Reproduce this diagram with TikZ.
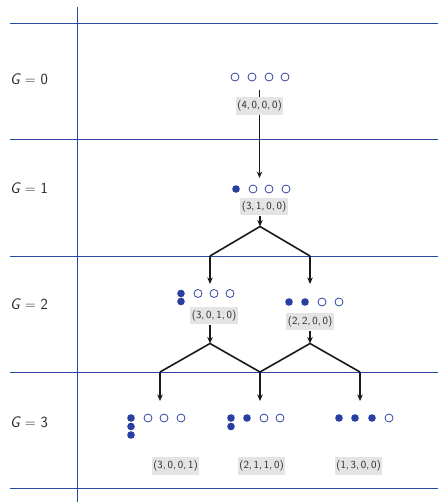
\documentclass[tikz,border=0pt]{standalone}
\usetikzlibrary{arrows.meta}
\definecolor{lineblue}{RGB}{42,72,162}
\definecolor{dotblue}{RGB}{40,62,160}
\definecolor{boxgray}{RGB}{228,228,229}
\definecolor{txtgray}{RGB}{40,40,40}
\begin{document}
\begin{tikzpicture}[x=1pt,y=-1pt,
  grid/.style={draw=lineblue,line width=0.9pt},
  emp/.style={circle,draw=dotblue,line width=0.75pt,minimum size=8pt,inner sep=0pt},
  ful/.style={circle,fill=dotblue,minimum size=7.6pt,inner sep=0pt},
  lbl/.style={fill=boxgray,text=txtgray,font=\sffamily\fontsize{10.8}{12}\selectfont,
    inner xsep=1.5pt,inner ysep=3.5pt,text height=8pt,text depth=2.8pt},
  rowlbl/.style={anchor=west,text=txtgray,font=\sffamily\fontsize{15.5}{17}\selectfont,inner sep=0pt},
  arr/.style={draw=black!90,line width=1.6pt,-{Stealth[length=6.5pt,width=5.5pt]}},
  seg/.style={draw=black!90,line width=1.6pt}]
\useasboundingbox (0,0) rectangle (438,502);
\fill[white] (0,0) rectangle (438,502);

% grid
\coordinate (vt) at (77,7);
\coordinate (vb) at (77,502);
\draw[grid] (vt) -- (vb);
\foreach \y [count=\i] in {23,139,256,372,488}{
  \coordinate (hl\i) at (10,\y);
  \coordinate (hr\i) at (438,\y);
  \draw[grid] (hl\i) -- (hr\i);
}

% row labels
\node[rowlbl] (g0) at (10,79) {\itshape G\upshape\ $=$ 0};
\node[rowlbl] (g1) at (10,188) {\itshape G\upshape\ $=$ 1};
\node[rowlbl] (g2) at (10,304) {\itshape G\upshape\ $=$ 2};
\node[rowlbl] (g3) at (10,422) {\itshape G\upshape\ $=$ 3};

% ---------- G = 0 ----------
\node[emp] (a1) at (235,77) {};
\node[emp] (a2) at (252,77) {};
\node[emp] (a3) at (269,77) {};
\node[emp] (a4) at (285,77) {};
\coordinate (s0out) at (259.5,90);
\coordinate (s1in) at (259.5,178);
\draw[arr] (s0out) -- (s1in);
\node[lbl] (s0) at (259.5,106) {(4,\,0,\,0,\,0)};

% ---------- G = 1 ----------
\node[ful] (b1) at (236,189) {};
\node[emp] (b2) at (253,189) {};
\node[emp] (b3) at (269,189) {};
\node[emp] (b4) at (286,189) {};
\node[lbl] (s1) at (264,206.5) {(3,\,1,\,0,\,0)};
\coordinate (j1) at (260,226.5);
\draw[arr] (s1.south -| j1) -- (j1);
\coordinate (k1) at (210,256);
\coordinate (k2) at (310,256);
\draw[seg] (k1) -- (j1) -- (k2);
\coordinate (s2ain) at (210,284);
\coordinate (s2bin) at (310,284);
\draw[arr] (k1) -- (s2ain);
\draw[arr] (k2) -- (s2bin);

% ---------- G = 2 ----------
\node[ful] (c1) at (181,293.5) {};
\node[ful] (c2) at (181,301.5) {};
\node[emp] (c3) at (198,293.5) {};
\node[emp] (c4) at (214,293.5) {};
\node[emp] (c5) at (230,293.5) {};
\node[lbl] (s2a) at (214,315.5) {(3,\,0,\,1,\,0)};

\node[ful] (d1) at (289,302) {};
\node[ful] (d2) at (305,302) {};
\node[emp] (d3) at (322,302) {};
\node[emp] (d4) at (339,302) {};
\node[lbl] (s2b) at (310,321.5) {(2,\,2,\,0,\,0)};

\coordinate (j2) at (210,343.5);
\coordinate (j3) at (310,343.5);
\draw[arr] (s2a.south -| j2) -- (j2);
\draw[arr] (s2b.south -| j3) -- (j3);
\coordinate (m1) at (160,372);
\coordinate (m2) at (260,372);
\coordinate (m3) at (360,372);
\draw[seg] (m1) -- (j2) -- (m2) -- (j3) -- (m3);
\coordinate (n1) at (160,401);
\coordinate (n2) at (260,401);
\coordinate (n3) at (360,401);
\draw[arr] (m1) -- (n1);
\draw[arr] (m2) -- (n2);
\draw[arr] (m3) -- (n3);

% ---------- G = 3 ----------
\node[ful] (e1) at (131,418) {};
\node[ful] (e2) at (131,426.5) {};
\node[ful] (e3) at (131,435) {};
\node[emp] (e4) at (148,418) {};
\node[emp] (e5) at (164,418) {};
\node[emp] (e6) at (181,418) {};
\node[lbl] (s3a) at (175.5,466) {(3,\,0,\,0,\,1)};

\node[ful] (f1) at (231,418) {};
\node[ful] (f2) at (231,426.5) {};
\node[ful] (f3) at (247,418) {};
\node[emp] (f4) at (264,418) {};
\node[emp] (f5) at (280,418) {};
\node[lbl] (s3b) at (261.5,466) {(2,\,1,\,1,\,0)};

\node[ful] (h1) at (339,418) {};
\node[ful] (h2) at (355,418) {};
\node[ful] (h3) at (372,418) {};
\node[emp] (h4) at (389,418) {};
\node[lbl] (s3c) at (358.5,466) {(1,\,3,\,0,\,0)};
\end{tikzpicture}
\end{document}
